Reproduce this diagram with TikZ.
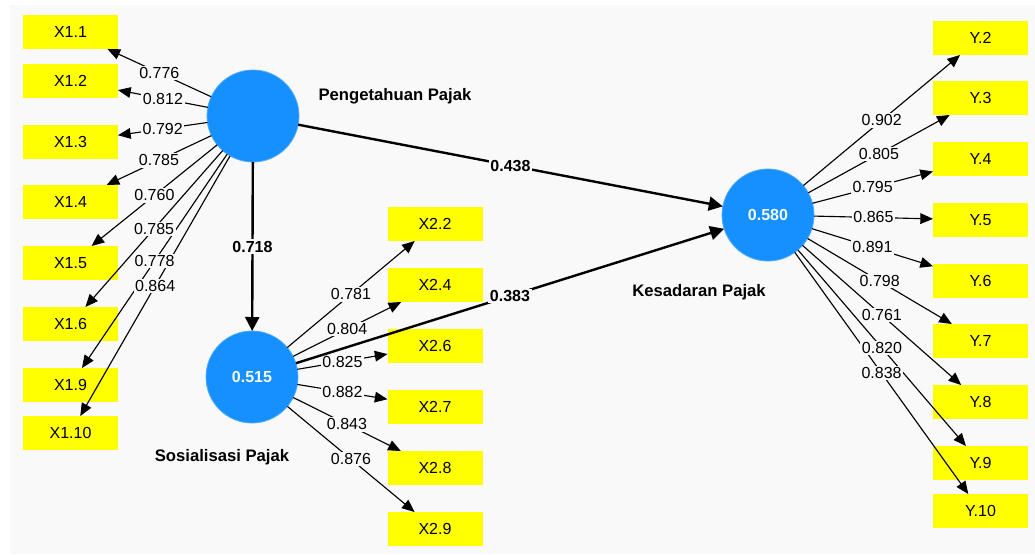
\documentclass[tikz,border=0pt]{standalone}
\usepackage{fontspec}
\setmainfont{Liberation Sans}
\usetikzlibrary{arrows.meta}
\definecolor{canvas}{HTML}{F9F9F9}
\definecolor{lvblue}{RGB}{22,144,255}
\definecolor{mvyellow}{HTML}{FFFF00}

\tikzset{
  latent/.style={circle, fill=lvblue, draw=lvblue!75!white, line width=0.6pt,
    minimum size=69pt, inner sep=0pt, outer sep=0pt, text=white!95!lvblue,
    font=\bfseries\fontsize{12}{14}\selectfont},
  indicator/.style={rectangle, fill=mvyellow, minimum width=71.25pt,
    minimum height=25.5pt, inner sep=0pt, outer sep=0pt,
    font=\fontsize{12}{14}\selectfont},
  lvname/.style={font=\bfseries\fontsize{12.5}{15}\selectfont},
  loading/.style={draw=black, line width=0.85pt,
    -{Triangle[length=9.5pt,width=8pt]}},
  structural/.style={draw=black, line width=1.8pt,
    -{Triangle[length=10.5pt,width=10.5pt]}},
  wlabel/.style={fill=canvas, inner sep=1.2pt, font=\fontsize{12}{14}\selectfont},
  plabel/.style={wlabel, font=\bfseries\fontsize{12}{14}\selectfont},
}

\begin{document}
\begin{tikzpicture}[x=0.75pt, y=-0.75pt]
  \useasboundingbox (0,0) rectangle (1035,554);
  \fill[white] (0,0) rectangle (1035,554);
  \fill[canvas] (10,5) rectangle (1035,554);

  % latent variables
  \node[latent] (PP) at (253,116) {};
  \node[latent] (SP) at (252,377) {0.515};
  \node[latent] (KP) at (768,215) {0.580};
  \node[lvname] (PPname) at (395,96) {Pengetahuan Pajak};
  \node[lvname] (SPname) at (222,457) {Sosialisasi Pajak};
  \node[lvname] (KPname) at (699,292) {Kesadaran Pajak};

  % indicators of Pengetahuan Pajak
  \foreach \n/\t/\y in {X11/X1.1/32, X12/X1.2/81, X13/X1.3/142, X14/X1.4/202,
                        X15/X1.5/263, X16/X1.6/324, X19/X1.9/385, X110/X1.10/433}
    \node[indicator] (\n) at (70.5,\y) {\t};
  % indicators of Sosialisasi Pajak
  \foreach \n/\t/\y in {X22/X2.2/224, X24/X2.4/285, X26/X2.6/346,
                        X27/X2.7/407, X28/X2.8/468, X29/X2.9/529}
    \node[indicator] (\n) at (435,\y) {\t};
  % indicators of Kesadaran Pajak
  \foreach \n/\t/\y in {Y2/Y.2/38, Y3/Y.3/98, Y4/Y.4/159, Y5/Y.5/220, Y6/Y.6/281,
                        Y7/Y.7/341, Y8/Y.8/402, Y9/Y.9/463, Y10/Y.10/511}
    \node[indicator] (\n) at (980.5,\y) {\t};

  \def\loadings{PP/X11/0.776, PP/X12/0.812, PP/X13/0.792, PP/X14/0.785,
    PP/X15/0.760, PP/X16/0.785, PP/X19/0.778, PP/X110/0.864,
    SP/X22/0.781, SP/X24/0.804, SP/X26/0.825, SP/X27/0.882, SP/X28/0.843,
    SP/X29/0.876,
    KP/Y2/0.902, KP/Y3/0.805, KP/Y4/0.795, KP/Y5/0.865, KP/Y6/0.891,
    KP/Y7/0.798, KP/Y8/0.761, KP/Y9/0.820, KP/Y10/0.838}

  % outer loadings: lines first, then their values
  \foreach \s/\d/\v in \loadings
    \draw[loading] (\s) -- (\d);
  \foreach \s/\d/\v in \loadings
    \path (\s) -- node[wlabel] {\v} (\d);

  % path coefficients
  \draw[structural] (PP) -- (SP);
  \draw[structural] (PP) -- (KP);
  \draw[structural] (SP) -- (KP);
  \path (PP) -- node[plabel] {0.718} (SP);
  \path (PP) -- node[plabel] {0.438} (KP);
  \path (SP) -- node[plabel] {0.383} (KP);
\end{tikzpicture}
\end{document}
